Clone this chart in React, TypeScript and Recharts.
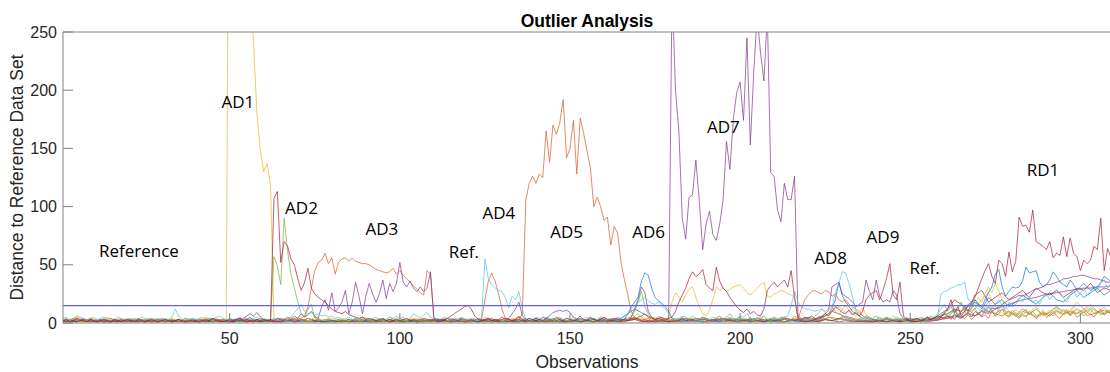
import { LineChart, Line, XAxis, YAxis, ReferenceDot } from "recharts";

const OBS_COUNT = 309;
const X_TICKS = [50, 100, 150, 200, 250, 300];
const Y_TICKS = [0, 50, 100, 150, 200, 250];
const THRESHOLD = 15;

// one value per observation (1..309)
const yel = [
  3, 4, 2, 3, 5, 4, 3, 2, 4, 3,
  2, 3, 4, 5, 3, 2, 3, 4, 2, 3,
  4, 3, 2, 2, 3, 4, 3, 2, 3, 2,
  3, 2, 4, 3, 2, 3, 2, 3, 4, 3,
  2, 3, 5, 3, 2, 4, 3, 2, 3, 620,
  480, 430, 390, 350, 320, 290, 240, 180, 148, 130,
  137, 118, 2, 3, 4, 2, 3, 5, 3, 4,
  2, 3, 4, 3, 5, 4, 3, 2, 3, 4,
  3, 2, 4, 3, 2, 3, 4, 2, 3, 5,
  3, 2, 3, 4, 2, 3, 5, 3, 2, 4,
  3, 2, 3, 4, 3, 2, 4, 3, 2, 3,
  2, 3, 4, 2, 3, 2, 3, 4, 3, 2,
  3, 4, 2, 3, 5, 4, 3, 2, 3, 2,
  3, 2, 4, 3, 6, 4, 3, 2, 3, 4,
  3, 2, 4, 3, 2, 3, 4, 3, 2, 3,
  2, 4, 3, 2, 3, 4, 2, 3, 5, 3,
  2, 3, 4, 3, 2, 3, 5, 4, 6, 8,
  5, 4, 3, 4, 5, 3, 4, 3, 5, 18,
  26, 22, 18, 24, 29, 31, 22, 14, 8, 6,
  11, 20, 31, 28, 30, 27, 29, 31, 32, 33,
  30, 26, 24, 27, 30, 33, 35, 23, 22, 25,
  26, 28, 27, 25, 24, 22, 4, 3, 5, 4,
  3, 6, 8, 12, 9, 6, 14, 10, 7, 12,
  15, 11, 8, 6, 9, 13, 7, 5, 4, 6,
  3, 4, 5, 3, 6, 4, 3, 2, 3, 4,
  3, 2, 4, 3, 5, 4, 3, 6, 5, 8,
  6, 9, 12, 8, 10, 14, 9, 12, 16, 22,
  18, 25, 31, 26, 34, 28, 20, 14, 10, 8,
  12, 9, 6, 10, 8, 12, 14, 10, 7, 9,
  11, 8, 13, 10, 7, 12, 9, 14, 11, 8,
  10, 13, 9, 12, 8, 11, 14, 10, 12,
];

const red = [
  2, 3, 1, 2, 4, 3, 2, 1, 3, 2,
  1, 2, 3, 2, 1, 3, 2, 1, 2, 3,
  2, 1, 3, 2, 1, 2, 3, 2, 1, 2,
  3, 2, 1, 2, 3, 2, 1, 2, 3, 2,
  1, 2, 3, 2, 4, 3, 2, 1, 2, 3,
  2, 3, 4, 2, 3, 2, 1, 3, 2, 3,
  2, 2, 107, 113, 52, 70, 66, 55, 50, 38,
  28, 35, 47, 30, 25, 22, 20, 18, 15, 12,
  10, 9, 8, 10, 7, 6, 5, 4, 5, 3,
  4, 3, 2, 3, 4, 2, 3, 2, 3, 2,
  3, 4, 2, 3, 2, 3, 4, 3, 2, 3,
  2, 3, 2, 4, 6, 8, 10, 12, 14, 15,
  12, 6, 3, 2, 3, 4, 2, 3, 2, 3,
  4, 3, 2, 3, 5, 3, 2, 4, 3, 2,
  3, 2, 4, 3, 2, 5, 3, 2, 4, 3,
  2, 3, 6, 3, 2, 4, 3, 2, 3, 5,
  3, 2, 3, 4, 2, 3, 2, 4, 3, 5,
  6, 8, 5, 4, 3, 4, 5, 3, 4, 5,
  10, 18, 24, 30, 38, 44, 40, 42, 46, 33,
  30, 28, 48, 36, 30, 27, 22, 18, 14, 11,
  9, 12, 8, 10, 7, 6, 12, 28, 32, 35,
  31, 34, 37, 31, 45, 22, 4, 3, 5, 4,
  6, 4, 3, 5, 8, 6, 10, 14, 12, 9,
  8, 11, 7, 9, 6, 10, 20, 24, 26, 28,
  20, 28, 38, 51, 24, 20, 35, 6, 3, 2,
  3, 4, 2, 3, 5, 3, 4, 6, 5, 8,
  12, 20, 9, 14, 6, 10, 15, 18, 22, 30,
  38, 45, 51, 40, 34, 54, 51, 40, 61, 44,
  53, 91, 83, 84, 78, 97, 70, 68, 66, 63,
  70, 56, 60, 58, 74, 57, 73, 60, 57, 45,
  54, 51, 54, 66, 63, 90, 45, 64, 56,
];

const grn = [
  1, 2, 1, 3, 2, 1, 2, 3, 1, 2,
  3, 1, 2, 1, 2, 3, 1, 2, 1, 2,
  1, 2, 3, 1, 2, 1, 2, 1, 3, 2,
  1, 2, 1, 2, 3, 1, 2, 1, 2, 3,
  1, 2, 1, 3, 2, 1, 2, 3, 1, 2,
  3, 2, 1, 2, 3, 2, 1, 2, 3, 2,
  1, 3, 57, 49, 33, 90, 62, 42, 30, 18,
  8, 5, 12, 16, 4, 3, 2, 3, 2, 1,
  2, 3, 1, 2, 1, 3, 2, 1, 2, 3,
  1, 2, 1, 3, 2, 1, 2, 4, 2, 1,
  2, 1, 3, 2, 1, 2, 3, 1, 2, 1,
  2, 3, 1, 2, 1, 2, 3, 2, 1, 2,
  1, 2, 3, 2, 1, 2, 1, 3, 2, 1,
  2, 3, 2, 4, 6, 3, 2, 1, 2, 3,
  1, 2, 3, 2, 1, 2, 1, 3, 2, 1,
  2, 1, 2, 3, 1, 2, 1, 2, 3, 2,
  1, 2, 3, 2, 1, 2, 3, 6, 10, 18,
  27, 14, 8, 5, 3, 6, 4, 2, 3, 2,
  4, 3, 6, 5, 3, 4, 2, 3, 5, 4,
  3, 2, 4, 6, 3, 5, 8, 4, 3, 2,
  4, 3, 5, 2, 3, 4, 6, 3, 2, 4,
  3, 5, 4, 2, 3, 6, 4, 3, 2, 5,
  3, 4, 2, 6, 3, 5, 4, 2, 3, 6,
  4, 3, 5, 2, 4, 3, 6, 4, 2, 3,
  5, 3, 4, 2, 3, 5, 3, 2, 4, 3,
  2, 3, 5, 4, 3, 6, 4, 8, 12, 16,
  10, 14, 8, 12, 18, 10, 6, 9, 13, 7,
  11, 8, 14, 10, 6, 12, 16, 9, 7, 11,
  8, 5, 9, 12, 7, 10, 6, 8, 11, 7,
  9, 6, 10, 8, 12, 9, 7, 11, 8, 10,
  6, 9, 12, 8, 10, 7, 9, 11, 8,
];

const org = [
  2, 3, 2, 4, 3, 2, 3, 2, 4, 3,
  2, 3, 2, 3, 4, 2, 3, 2, 3, 2,
  3, 2, 4, 3, 2, 3, 2, 3, 2, 4,
  3, 2, 3, 2, 3, 2, 4, 3, 2, 3,
  2, 3, 2, 4, 3, 2, 3, 2, 3, 2,
  3, 2, 4, 3, 2, 3, 2, 3, 4, 2,
  3, 2, 3, 2, 4, 3, 2, 3, 2, 3,
  4, 6, 14, 30, 45, 52, 54, 60, 51, 56,
  42, 52, 55, 56, 53, 56, 53, 52, 51, 51,
  50, 48, 46, 45, 44, 43, 44, 47, 42, 45,
  41, 38, 35, 32, 29, 26, 24, 45, 42, 4,
  3, 2, 3, 2, 4, 3, 2, 3, 2, 3,
  2, 3, 2, 3, 20, 36, 43, 36, 25, 12,
  4, 3, 2, 3, 3, 8, 105, 120, 126, 120,
  128, 125, 165, 138, 170, 162, 172, 192, 142, 150,
  174, 128, 176, 163, 148, 133, 100, 108, 100, 88,
  91, 67, 83, 77, 52, 37, 24, 10, 4, 3,
  2, 3, 4, 2, 3, 2, 3, 4, 2, 3,
  2, 3, 2, 4, 3, 2, 3, 2, 4, 3,
  2, 3, 2, 3, 4, 2, 3, 2, 3, 2,
  3, 2, 4, 3, 2, 3, 2, 3, 2, 4,
  3, 2, 3, 2, 3, 4, 3, 12, 20, 24,
  27, 28, 26, 25, 28, 27, 23, 25, 20, 18,
  20, 16, 14, 12, 10, 6, 4, 3, 2, 3,
  2, 3, 4, 2, 3, 2, 3, 2, 4, 3,
  2, 3, 2, 3, 4, 2, 3, 4, 3, 5,
  4, 6, 3, 8, 5, 4, 7, 3, 6, 9,
  5, 7, 4, 10, 6, 8, 12, 7, 5, 9,
  6, 4, 8, 5, 10, 7, 4, 6, 9, 5,
  7, 10, 6, 4, 8, 11, 6, 9, 5, 7,
  10, 6, 8, 5, 9, 12, 7, 10, 8,
];

const pur = [
  2, 1, 3, 2, 1, 2, 3, 1, 2, 1,
  2, 3, 1, 2, 1, 2, 1, 3, 2, 1,
  2, 1, 2, 3, 1, 2, 1, 2, 1, 3,
  1, 2, 1, 2, 3, 1, 2, 1, 2, 1,
  3, 2, 1, 2, 4, 2, 1, 3, 2, 1,
  2, 3, 2, 4, 6, 8, 6, 9, 5, 3,
  2, 3, 2, 4, 3, 2, 5, 3, 6, 4,
  8, 5, 7, 10, 6, 4, 14, 20, 11, 26,
  10, 13, 18, 28, 8, 18, 35, 23, 8, 23,
  34, 25, 18, 25, 37, 21, 34, 27, 34, 52,
  35, 31, 36, 30, 27, 31, 27, 30, 44, 4,
  3, 2, 3, 4, 2, 3, 2, 4, 3, 2,
  3, 2, 4, 3, 2, 3, 4, 2, 3, 5,
  3, 4, 8, 12, 18, 6, 3, 2, 3, 4,
  3, 5, 4, 6, 9, 10, 11, 10, 11, 9,
  5, 3, 4, 2, 3, 5, 3, 2, 4, 3,
  2, 3, 4, 3, 2, 4, 3, 5, 12, 20,
  31, 26, 10, 5, 3, 4, 3, 2, 4, 290,
  200, 165, 90, 72, 108, 110, 140, 105, 63, 85,
  96, 76, 71, 85, 106, 156, 132, 175, 198, 207,
  174, 245, 153, 215, 265, 232, 208, 265, 129, 126,
  97, 87, 120, 106, 106, 126, 6, 4, 3, 5,
  4, 3, 5, 6, 8, 11, 31, 33, 35, 25,
  23, 21, 18, 14, 16, 18, 37, 27, 20, 37,
  23, 18, 20, 18, 28, 24, 8, 4, 3, 2,
  3, 4, 2, 3, 5, 3, 4, 2, 5, 4,
  6, 3, 8, 5, 4, 7, 9, 5, 10, 8,
  6, 11, 9, 13, 12, 14, 16, 18, 20, 21,
  22, 24, 23, 25, 26, 28, 29, 30, 31, 33,
  33, 34, 35, 36, 38, 38, 39, 40, 40, 41,
  41, 40, 39, 38, 38, 37, 36, 35, 35,
];

const lbl = [
  4, 5, 3, 4, 6, 5, 4, 3, 4, 5,
  3, 4, 5, 3, 4, 3, 5, 4, 3, 4,
  3, 4, 3, 5, 4, 3, 4, 3, 4, 3,
  4, 3, 5, 12, 6, 3, 4, 3, 4, 3,
  4, 5, 3, 4, 3, 5, 6, 4, 3, 4,
  3, 4, 5, 3, 4, 3, 4, 5, 3, 4,
  3, 2, 4, 3, 2, 4, 3, 5, 9, 12,
  16, 10, 8, 9, 7, 8, 6, 7, 5, 6,
  4, 5, 3, 4, 5, 3, 4, 3, 5, 4,
  3, 4, 5, 3, 4, 3, 5, 4, 6, 4,
  5, 3, 4, 8, 6, 4, 7, 9, 5, 3,
  4, 3, 5, 4, 3, 4, 3, 5, 4, 3,
  4, 3, 2, 5, 55, 38, 33, 30, 28, 27,
  22, 13, 23, 20, 27, 12, 3, 4, 3, 5,
  4, 3, 5, 4, 3, 4, 5, 3, 4, 3,
  5, 4, 3, 4, 5, 3, 4, 3, 5, 4,
  3, 4, 3, 5, 4, 6, 8, 12, 15, 18,
  20, 22, 19, 17, 16, 18, 15, 12, 8, 4,
  3, 4, 5, 3, 4, 6, 4, 3, 5, 4,
  3, 5, 4, 6, 3, 4, 5, 3, 4, 6,
  5, 8, 4, 3, 5, 4, 6, 3, 4, 5,
  4, 3, 5, 6, 15, 27, 18, 14, 12, 12,
  11, 10, 11, 12, 10, 12, 14, 26, 34, 44,
  43, 34, 23, 11, 6, 4, 5, 3, 4, 6,
  4, 3, 5, 4, 3, 2, 4, 3, 5, 3,
  4, 3, 2, 4, 3, 5, 3, 4, 25, 27,
  28, 30, 31, 33, 33, 35, 20, 18, 15, 12,
  10, 14, 18, 12, 16, 20, 15, 12, 18, 14,
  16, 20, 18, 24, 22, 18, 20, 16, 22, 25,
  20, 24, 28, 26, 22, 18, 24, 28, 22, 26,
  30, 24, 27, 32, 28, 34, 37, 30, 33,
];

const blu = [
  2, 3, 2, 1, 3, 2, 4, 2, 3, 2,
  1, 2, 3, 2, 1, 3, 2, 2, 1, 3,
  2, 3, 1, 2, 3, 2, 1, 2, 3, 2,
  1, 3, 2, 2, 3, 1, 2, 3, 2, 1,
  2, 3, 2, 1, 3, 2, 3, 2, 1, 2,
  3, 2, 1, 2, 3, 5, 2, 3, 2, 1,
  2, 3, 2, 4, 2, 3, 1, 2, 3, 2,
  3, 2, 4, 3, 2, 3, 2, 1, 3, 2,
  2, 3, 1, 2, 3, 2, 4, 2, 3, 1,
  2, 3, 2, 1, 3, 2, 3, 2, 4, 2,
  3, 2, 1, 2, 3, 2, 3, 1, 2, 3,
  2, 1, 3, 2, 3, 2, 1, 3, 2, 2,
  3, 2, 1, 2, 3, 4, 2, 3, 2, 1,
  2, 3, 2, 1, 3, 2, 4, 2, 3, 2,
  1, 2, 3, 2, 4, 2, 3, 1, 2, 3,
  2, 3, 1, 2, 3, 2, 4, 2, 1, 3,
  2, 3, 2, 1, 3, 3, 8, 14, 18, 22,
  36, 43, 41, 30, 22, 19, 17, 14, 10, 4,
  3, 2, 4, 2, 3, 2, 1, 3, 2, 4,
  2, 3, 2, 1, 3, 2, 4, 2, 3, 5,
  2, 3, 2, 4, 2, 3, 1, 2, 3, 2,
  3, 2, 4, 2, 3, 2, 3, 2, 4, 3,
  2, 3, 5, 4, 6, 8, 12, 20, 35, 24,
  18, 14, 10, 8, 6, 4, 3, 5, 3, 2,
  3, 2, 4, 3, 2, 3, 2, 3, 2, 4,
  3, 2, 3, 4, 2, 3, 5, 4, 6, 9,
  5, 8, 12, 6, 10, 15, 9, 13, 20, 16,
  14, 20, 26, 31, 42, 46, 31, 23, 27, 31,
  30, 31, 36, 48, 43, 44, 45, 35, 31, 33,
  37, 44, 40, 35, 33, 31, 37, 33, 28, 31,
  34, 31, 28, 30, 31, 35, 40, 38, 35,
];

// background traces, one value every second observation (1, 3, 5, ... 309)
const n1 = [
  1, 2, 1, 3, 2, 1, 2, 1, 2, 3,
  1, 2, 1, 2, 1, 3, 1, 2, 1, 2,
  1, 2, 3, 1, 2, 1, 2, 1, 3, 2,
  1, 2, 1, 2, 3, 1, 2, 1, 2, 1,
  2, 1, 3, 1, 2, 1, 2, 3, 1, 2,
  1, 2, 1, 2, 1, 3, 2, 1, 2, 1,
  2, 1, 2, 3, 1, 2, 1, 2, 1, 2,
  3, 1, 2, 1, 2, 1, 3, 2, 1, 2,
  1, 2, 4, 8, 12, 9, 6, 3, 2, 1,
  2, 1, 3, 2, 1, 2, 1, 3, 2, 1,
  2, 1, 2, 3, 1, 2, 1, 2, 3, 1,
  2, 4, 6, 10, 8, 5, 3, 2, 1, 2,
  1, 3, 2, 1, 2, 1, 2, 3, 4, 6,
  8, 12, 10, 14, 18, 12, 22, 16, 20, 14,
  18, 24, 20, 16, 22, 26, 20, 18, 24, 28,
  22, 26, 30, 24, 28,
];

const n2 = [
  2, 1, 2, 1, 3, 2, 1, 2, 1, 2,
  3, 1, 2, 1, 2, 1, 2, 3, 1, 2,
  1, 2, 1, 3, 2, 1, 4, 2, 1, 2,
  3, 2, 1, 2, 4, 3, 2, 1, 2, 3,
  1, 2, 1, 2, 3, 1, 2, 1, 2, 1,
  2, 3, 1, 2, 1, 2, 1, 3, 2, 1,
  2, 1, 3, 2, 1, 2, 3, 1, 2, 1,
  2, 1, 2, 3, 1, 2, 1, 2, 3, 1,
  2, 1, 3, 2, 4, 2, 1, 2, 3, 1,
  2, 4, 3, 2, 5, 3, 2, 4, 3, 2,
  3, 2, 4, 3, 2, 3, 5, 2, 3, 2,
  3, 2, 4, 5, 3, 6, 4, 3, 2, 3,
  2, 4, 3, 2, 3, 2, 1, 3, 2, 4,
  6, 4, 8, 12, 6, 10, 14, 8, 6, 10,
  7, 12, 8, 5, 9, 6, 11, 7, 10, 8,
  12, 7, 9, 11, 8,
];

const n3 = [
  3, 2, 4, 2, 3, 2, 3, 4, 2, 3,
  2, 3, 2, 4, 3, 2, 3, 2, 3, 2,
  3, 4, 2, 3, 2, 3, 2, 4, 3, 2,
  3, 2, 3, 4, 2, 3, 2, 3, 2, 4,
  2, 3, 2, 3, 4, 2, 3, 2, 3, 2,
  3, 2, 4, 2, 3, 2, 3, 2, 4, 3,
  2, 3, 2, 3, 2, 4, 3, 2, 3, 2,
  3, 2, 3, 4, 2, 3, 2, 3, 2, 3,
  4, 2, 3, 2, 3, 4, 2, 3, 2, 3,
  2, 3, 4, 2, 3, 2, 3, 2, 4, 3,
  2, 3, 2, 3, 4, 2, 3, 2, 3, 2,
  3, 4, 6, 10, 14, 9, 12, 8, 5, 3,
  2, 3, 2, 4, 3, 2, 3, 2, 3, 5,
  4, 7, 5, 9, 12, 20, 26, 14, 8, 6,
  9, 5, 8, 12, 6, 10, 14, 8, 11, 18,
  12, 16, 10, 8, 12,
];

const n4 = [
  1, 2, 1, 2, 1, 2, 1, 1, 2, 1,
  2, 1, 2, 1, 1, 2, 1, 2, 1, 2,
  1, 2, 1, 2, 1, 1, 2, 1, 2, 1,
  2, 1, 1, 2, 1, 2, 1, 2, 1, 1,
  2, 1, 2, 1, 2, 1, 1, 2, 1, 2,
  1, 2, 1, 1, 2, 1, 2, 1, 2, 1,
  1, 2, 1, 2, 1, 2, 1, 1, 2, 1,
  2, 1, 2, 1, 1, 2, 1, 2, 1, 2,
  1, 2, 1, 3, 5, 2, 1, 2, 1, 2,
  1, 2, 1, 2, 1, 1, 2, 1, 2, 1,
  2, 1, 2, 1, 2, 1, 1, 2, 1, 2,
  1, 2, 3, 2, 1, 2, 1, 2, 1, 1,
  2, 1, 2, 1, 2, 1, 2, 1, 2, 3,
  4, 6, 5, 8, 6, 10, 8, 12, 14, 16,
  18, 20, 21, 22, 24, 25, 26, 27, 28, 29,
  30, 30, 31, 31, 32,
];

const n5 = [
  2, 1, 2, 1, 2, 1, 2, 1, 3, 1,
  2, 1, 2, 3, 1, 2, 1, 2, 1, 2,
  1, 2, 1, 2, 1, 3, 1, 2, 1, 2,
  1, 2, 3, 2, 4, 2, 1, 2, 1, 2,
  1, 2, 1, 3, 1, 2, 1, 2, 1, 2,
  2, 1, 2, 1, 2, 1, 3, 1, 2, 1,
  2, 1, 2, 1, 3, 1, 2, 1, 2, 1,
  2, 1, 2, 1, 2, 3, 1, 2, 1, 2,
  1, 2, 1, 2, 4, 3, 2, 1, 2, 1,
  2, 1, 3, 2, 1, 2, 4, 2, 1, 2,
  1, 2, 1, 3, 1, 2, 1, 2, 3, 1,
  2, 1, 3, 2, 4, 2, 1, 2, 1, 3,
  1, 2, 1, 2, 1, 3, 1, 2, 4, 6,
  8, 12, 10, 16, 20, 14, 10, 8, 12, 9,
  6, 10, 8, 12, 7, 9, 14, 10, 8, 12,
  9, 13, 10, 7, 11,
];

const n6 = [
  1, 2, 1, 3, 1, 2, 1, 2, 1, 2,
  1, 2, 1, 2, 3, 1, 2, 1, 2, 1,
  2, 1, 2, 1, 2, 1, 3, 1, 2, 1,
  2, 1, 2, 3, 1, 2, 4, 2, 1, 2,
  1, 2, 1, 2, 1, 3, 1, 2, 1, 2,
  1, 2, 1, 2, 3, 1, 2, 1, 2, 1,
  2, 1, 2, 1, 2, 1, 2, 3, 1, 2,
  1, 2, 1, 2, 1, 2, 1, 2, 1, 3,
  1, 2, 1, 2, 3, 1, 2, 1, 2, 1,
  2, 3, 2, 4, 3, 2, 3, 4, 2, 3,
  2, 3, 2, 1, 3, 2, 4, 3, 2, 1,
  2, 1, 3, 2, 4, 3, 2, 1, 2, 1,
  2, 1, 2, 1, 3, 1, 2, 3, 4, 8,
  12, 20, 16, 10, 24, 28, 18, 22, 26, 20,
  24, 28, 22, 30, 26, 24, 28, 22, 26, 30,
  28, 34, 26, 30, 28,
];

const annotationText = ["Reference", "AD1", "AD2", "AD3", "Ref.", "AD4", "AD5", "AD6", "AD7", "AD8", "AD9", "Ref.", "RD1"];
const annotationObs = [23.3, 52.4, 71.1, 94.7, 118.8, 129.1, 149, 173.1, 195.1, 226.6, 242, 254.2, 289];
const annotationDist = [62, 190, 98.5, 80.8, 61.3, 94.2, 78.4, 78.4, 168.6, 55.6, 73.5, 47, 131.4];

const sparse = ["n1", "n2", "n3", "n4", "n5", "n6"];
const series = [
  { key: "n1", color: "#0072BD" },
  { key: "n2", color: "#D95319" },
  { key: "n3", color: "#EDB120" },
  { key: "n4", color: "#7E2F8E" },
  { key: "n5", color: "#77AC30" },
  { key: "n6", color: "#A2142F" },
  { key: "blu", color: "#0072BD" },
  { key: "org", color: "#D95319" },
  { key: "yel", color: "#EDB120" },
  { key: "pur", color: "#7E2F8E" },
  { key: "grn", color: "#77AC30" },
  { key: "lbl", color: "#4DBEEE" },
  { key: "red", color: "#A2142F" },
];

const sources: Record<string, number[]> = { yel, red, grn, org, pur, lbl, blu, n1, n2, n3, n4, n5, n6 };

const rows = Array.from({ length: OBS_COUNT }, (_, i) => {
  const row: Record<string, number | null> = { obs: i + 1, limit: THRESHOLD };
  for (const key of Object.keys(sources)) {
    if (sparse.includes(key)) {
      row[key] = i % 2 === 0 ? sources[key][i / 2] ?? null : null;
    } else {
      row[key] = sources[key][i] ?? null;
    }
  }
  return row;
});

const AXIS_COLOR = "#808080";
const TEXT_COLOR = "#262626";
const TICK_FONT = "'Liberation Sans', Arial, Helvetica, sans-serif";

const YTitle = () => (
  <text
    x={23}
    y={177.5}
    transform="rotate(-90, 23, 177.5)"
    textAnchor="middle"
    fill={TEXT_COLOR}
    fontSize={17.5}
    fontFamily={TICK_FONT}
  >
    Distance to Reference Data Set
  </text>
);

export default function App() {
  return (
    <div style={{ position: "absolute", left: 0, top: 0, width: 1110, height: 372, overflow: "hidden", background: "#fff" }}>
      <LineChart width={1112} height={372} data={rows} margin={{ top: 0, right: 0, left: 0, bottom: 0 }}>
        <XAxis
          dataKey="obs"
          type="number"
          domain={[1, 309]}
          ticks={X_TICKS}
          height={49}
          stroke={AXIS_COLOR}
          tickSize={-10}
          tickMargin={20}
          tick={{ fill: TEXT_COLOR, fontSize: 16, fontFamily: TICK_FONT }}
          label={{ value: "Observations", position: "insideBottom", offset: 4, fill: TEXT_COLOR, fontSize: 17.5, fontFamily: TICK_FONT }}
        />
        <XAxis
          xAxisId="top"
          orientation="top"
          dataKey="obs"
          type="number"
          domain={[1, 309]}
          ticks={X_TICKS}
          height={32}
          stroke={AXIS_COLOR}
          tickSize={-10}
          tick={false}
          label={{ value: "Outlier Analysis", position: "insideTop", offset: 15, fill: "#000", fontSize: 17.5, fontWeight: "bold", fontFamily: TICK_FONT }}
        />
        <YAxis
          type="number"
          domain={[0, 250]}
          ticks={Y_TICKS}
          allowDataOverflow
          width={63}
          stroke={AXIS_COLOR}
          tickSize={-10}
          tickMargin={16}
          tick={{ fill: TEXT_COLOR, fontSize: 16, fontFamily: TICK_FONT }}
          label={<YTitle />}
        />
        <YAxis
          yAxisId="right"
          orientation="right"
          type="number"
          domain={[0, 250]}
          ticks={Y_TICKS}
          width={1}
          stroke={AXIS_COLOR}
          tickSize={-10}
          tick={false}
        />
        {series.map((s) => (
          <Line
            key={s.key}
            type="linear"
            dataKey={s.key}
            stroke={s.color}
            strokeWidth={1}
            strokeOpacity={0.68}
            dot={false}
            activeDot={false}
            connectNulls
            isAnimationActive={false}
          />
        ))}
        <Line
          type="linear"
          dataKey="limit"
          stroke="#6060f2"
          strokeWidth={1.2}
          dot={false}
          activeDot={false}
          isAnimationActive={false}
        />
        {annotationText.map((t, i) => (
          <ReferenceDot
            key={i}
            x={annotationObs[i]}
            y={annotationDist[i]}
            r={1}
            fill="none"
            stroke="none"
            label={{ value: t, position: "center", fill: "#000", fontSize: 17, fontFamily: "'Open Sans', sans-serif" }}
          />
        ))}
      </LineChart>
    </div>
  );
}
